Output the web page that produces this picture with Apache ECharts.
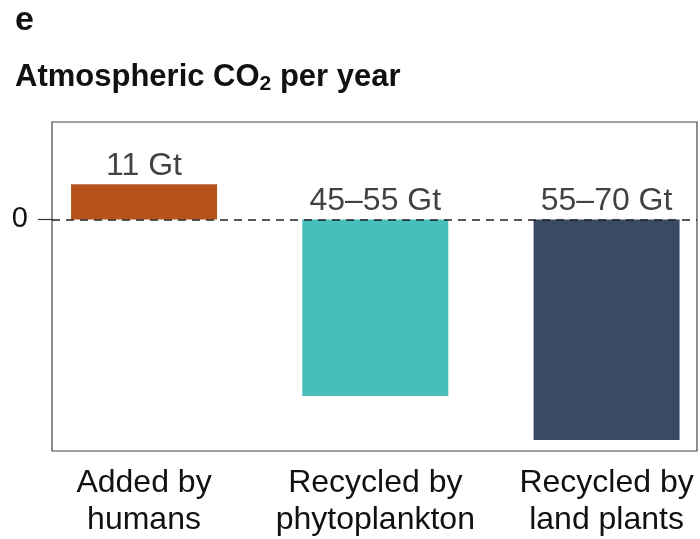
<!DOCTYPE html>
<html>
<head>
<meta charset="utf-8">
<script src="https://cdn.jsdelivr.net/npm/echarts@6/dist/echarts.min.js"></script>
<style>html,body{margin:0;padding:0;background:#fff}#c{width:700px;height:539px}</style>
</head>
<body>
<div id="c"></div>
<script>
const categories = ['Added by\nhumans', 'Recycled by\nphytoplankton', 'Recycled by\nland plants'];
const values = [10, -50, -62.5];
const valueLabels = ['11 Gt', '45–55 Gt', '55–70 Gt'];
const colors = ['#b5521c', '#46bfba', '#3a4a64'];
const yTicks = [0];
const yMin = -65.6, yMax = 27.6;
const xMin = -0.398, xMax = 2.391;

const FONT = 'Liberation Sans';
const catIdx = categories.map((c, i) => i);
const chart = echarts.init(document.getElementById('c'), null, {renderer: 'canvas'});
chart.setOption({
  animation: false,
  backgroundColor: '#fff',
  title: [
    {text: 'e', left: 15, top: 4, padding: 0,
     textStyle: {fontFamily: FONT, fontWeight: 'bold', fontSize: 34, color: '#111'}},
    {text: '{b|Atmospheric CO}{s|2}{b| per year}', left: 15, top: 59, padding: 0,
     textStyle: {rich: {
       b: {fontFamily: FONT, fontWeight: 'bold', fontSize: 31, lineHeight: 36, color: '#111'},
       s: {fontFamily: FONT, fontWeight: 'bold', fontSize: 21, lineHeight: 19, verticalAlign: 'bottom', color: '#111'}
     }}}
  ],
  grid: {left: 52, right: 3, top: 122, bottom: 88, show: true, borderColor: '#444', borderWidth: 1.2, backgroundColor: 'transparent'},
  xAxis: {type: 'value', min: xMin, max: xMax, position: 'bottom',
     axisLine: {show: false, onZero: false}, axisTick: {show: false}, splitLine: {show: false},
     axisLabel: {customValues: catIdx, formatter: v => categories[Math.round(v)],
       fontFamily: FONT, fontSize: 32, lineHeight: 37, color: '#111', margin: 14}},
  yAxis: {type: 'value', min: yMin, max: yMax, position: 'left',
     axisLine: {show: false, onZero: false}, splitLine: {show: false},
     axisTick: {show: true, length: 14, customValues: yTicks, lineStyle: {color: '#333', width: 1.2}},
     axisLabel: {customValues: yTicks, fontFamily: FONT, fontSize: 29, color: '#111', margin: 24}},
  series: [
    {type: 'bar', barWidth: 146,
     data: values.map((v, i) => ({value: [catIdx[i], v], itemStyle: {color: colors[i]}})),
     markLine: {silent: true, symbol: 'none', label: {show: false},
       lineStyle: {type: [8, 6], color: '#222', width: 1.5},
       data: [{yAxis: 0}]}},
    {type: 'scatter', symbolSize: 0, silent: true,
     data: values.map((v, i) => [catIdx[i], Math.max(v, 0)]),
     label: {show: true, position: 'top', distance: 2, fontFamily: FONT, fontSize: 32, color: '#111',
       formatter: p => valueLabels[p.dataIndex]}}
  ]
});
</script>
</body>
</html>
